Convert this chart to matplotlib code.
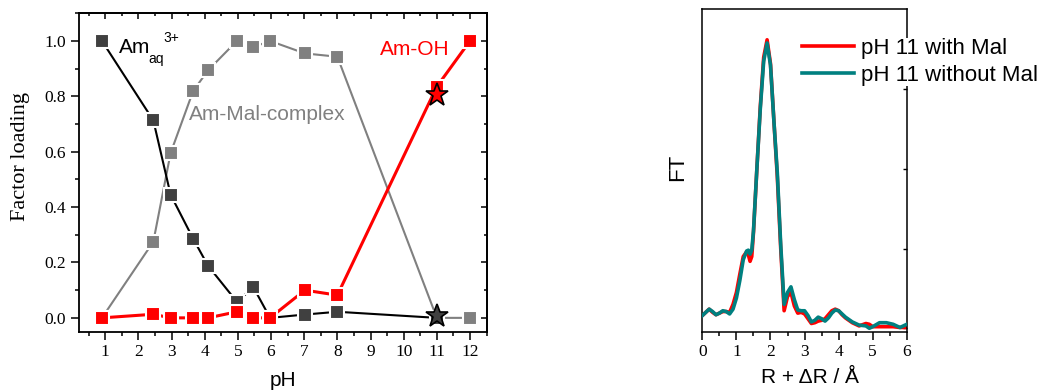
import matplotlib
matplotlib.use("Agg")
import matplotlib.pyplot as plt
from matplotlib.ticker import MultipleLocator
from matplotlib.lines import Line2D

# ---------------- data: factor loadings ----------------
ph = [0.9, 2.45, 2.97, 3.65, 4.1, 4.97, 5.47, 5.97, 7.02, 8.0, 11.0, 12.0]
am_aq = [1.0, 0.713, 0.445, 0.286, 0.188, 0.058, 0.11, 0.0, 0.012, 0.022, 0.0]   # up to pH 11
am_mal = [0.0, 0.275, 0.595, 0.819, 0.894, 1.0, 0.978, 1.0, 0.955, 0.943, 0.0, 0.0]
am_oh = [0.0, 0.013, 0.0, 0.0, 0.0, 0.022, 0.0, 0.0, 0.10, 0.082, 0.835, 1.0]
star_ph = [11.0, 11.0]
star_val = [0.805, 0.005]
star_col = ["#ff0000", "#404040"]

# ---------------- data: FT spectra ----------------
r = [0.0, 0.1, 0.2, 0.3, 0.4, 0.5, 0.6, 0.7, 0.8, 0.9, 1.0, 1.1, 1.2, 1.3, 1.35, 1.4,
     1.45, 1.5, 1.6, 1.7, 1.8, 1.9, 2.0, 2.1, 2.2, 2.3, 2.4, 2.5, 2.6, 2.7, 2.8, 2.9,
     3.0, 3.1, 3.2, 3.3, 3.4, 3.5, 3.6, 3.7, 3.8, 3.9, 4.0, 4.1, 4.2, 4.4, 4.6, 4.8,
     4.9, 5.0, 5.2, 5.4, 5.6, 5.8, 6.0]
ft_without = [0.16, 0.20, 0.24, 0.21, 0.17, 0.19, 0.22, 0.21, 0.18, 0.24, 0.38, 0.60,
              0.86, 0.97, 0.98, 0.93, 0.98, 1.22, 2.0, 2.75, 3.35, 3.58, 3.30, 2.60,
              1.95, 1.05, 0.30, 0.45, 0.52, 0.36, 0.23, 0.22, 0.22, 0.16, 0.08, 0.10,
              0.14, 0.12, 0.09, 0.13, 0.19, 0.23, 0.22, 0.18, 0.14, 0.08, 0.04, 0.03,
              0.0, 0.02, 0.07, 0.07, 0.05, 0.01, 0.05]
ft_with = [0.16, 0.20, 0.24, 0.20, 0.17, 0.19, 0.21, 0.21, 0.20, 0.30, 0.45, 0.68,
           0.90, 0.96, 0.92, 0.84, 0.90, 1.20, 2.0, 2.78, 3.40, 3.62, 3.32, 2.60,
           1.90, 1.00, 0.22, 0.40, 0.45, 0.28, 0.19, 0.20, 0.18, 0.12, 0.06, 0.07,
           0.09, 0.10, 0.12, 0.17, 0.22, 0.24, 0.22, 0.17, 0.13, 0.07, 0.03, 0.06,
           0.05, 0.02, 0.02, 0.02, 0.02, 0.01, 0.01]

SANS = "Liberation Sans"
SERIF = "Liberation Serif"

fig = plt.figure(figsize=(10.43, 3.92), dpi=100)

# ================= left panel =================
ax = fig.add_axes([0.0755, 0.1538, 0.391, 0.8124])
mk = dict(marker="s", markersize=10, markeredgecolor="white", markeredgewidth=1.5)
ax.plot(ph, am_mal, color="#808080", lw=1.5, markerfacecolor="#808080", zorder=2, **mk)
ax.plot(ph[:len(am_aq)], am_aq, color="black", lw=1.5, markerfacecolor="#404040", zorder=3, **mk)
ax.plot(ph, am_oh, color="#ff0000", lw=2.2, markerfacecolor="#ff0000", zorder=4, **mk)
for x, y, c in zip(star_ph, star_val, star_col):
    ax.plot([x], [y], marker="*", markersize=17, markerfacecolor=c,
            markeredgecolor="black", markeredgewidth=1.2, linestyle="none", zorder=6)

ax.set_xlim(0.2, 12.5)
ax.set_ylim(-0.05, 1.1)
ax.xaxis.set_major_locator(MultipleLocator(1))
ax.xaxis.set_minor_locator(MultipleLocator(0.5))
ax.yaxis.set_major_locator(MultipleLocator(0.2))
ax.yaxis.set_minor_locator(MultipleLocator(0.1))
ax.set_xticks(range(1, 13))
ax.set_yticks([0.0, 0.2, 0.4, 0.6, 0.8, 1.0])
ax.set_yticklabels(["0.0", "0.2", "0.4", "0.6", "0.8", "1.0"])
ax.tick_params(which="major", direction="out", length=6, width=1.1, labelsize=12.5, pad=3)
ax.tick_params(which="minor", direction="out", length=3, width=1.1)
for lab in ax.get_xticklabels() + ax.get_yticklabels():
    lab.set_fontfamily(SERIF)
# inward mirrored ticks on top/right
axt = ax.secondary_xaxis("top")
axt.xaxis.set_major_locator(MultipleLocator(1))
axt.xaxis.set_minor_locator(MultipleLocator(0.5))
axt.tick_params(which="major", direction="in", length=4, width=1.1, labeltop=False)
axt.tick_params(which="minor", direction="in", length=2.5, width=1.1)
axr = ax.secondary_yaxis("right")
axr.yaxis.set_major_locator(MultipleLocator(0.2))
axr.yaxis.set_minor_locator(MultipleLocator(0.1))
axr.tick_params(which="major", direction="in", length=4, width=1.1, labelright=False)
axr.tick_params(which="minor", direction="in", length=2.5, width=1.1)
for s in ax.spines.values():
    s.set_linewidth(1.3)
for a in (axt, axr):
    for s in a.spines.values():
        s.set_linewidth(1.3)

ax.text(1.40, 0.977, "Am", fontsize=15, family=SANS, color="black", va="center", ha="left")
ax.text(2.30, 0.934, "aq", fontsize=10, family=SANS, color="black", va="center", ha="left")
ax.text(2.76, 1.009, "3+", fontsize=10, family=SANS, color="black", va="center", ha="left")
ax.text(3.51, 0.734, "Am-Mal-complex", fontsize=15, family=SANS, color="#808080",
        va="center", ha="left")
ax.text(9.28, 0.97, "Am-OH", fontsize=15, family=SANS, color="#ff0000", va="center", ha="left")

fig.text(0.0195, 0.602, "Factor loading", rotation=90, fontsize=16, family=SERIF,
         ha="center", va="center")
fig.text(0.2713, 0.030, "pH", fontsize=15, family=SANS, ha="center", va="center")

# ================= right panel =================
bx = fig.add_axes([0.6734, 0.1538, 0.196, 0.822])
bx.plot(r, ft_with, color="#ff0000", lw=2.6, label="pH 11 with Mal", zorder=2)
bx.plot(r, ft_without, color="#008080", lw=2.6, label="pH 11 without Mal", zorder=3)
bx.set_xlim(0, 6)
bx.set_ylim(-0.043, 4.0)
bx.xaxis.set_major_locator(MultipleLocator(1))
bx.xaxis.set_minor_locator(MultipleLocator(0.5))
bx.set_yticks([0, 1, 2, 3])
bx.tick_params(axis="x", which="major", direction="out", length=6, width=1.1,
               labelsize=12.5, pad=3)
bx.tick_params(axis="x", which="minor", direction="out", length=3, width=1.1)
bx.tick_params(axis="y", which="both", left=False, right=True, direction="in",
               length=3, width=1.0, labelleft=False)
for lab in bx.get_xticklabels():
    lab.set_fontfamily(SERIF)
for s in bx.spines.values():
    s.set_linewidth(1.1)

leg = fig.legend(handles=[Line2D([], [], color="#ff0000", lw=2.6),
                          Line2D([], [], color="#008080", lw=2.6)],
                 labels=["pH 11 with Mal", "pH 11 without Mal"],
                 loc="upper left", bbox_to_anchor=(0.7687, 0.904),
                 frameon=True, framealpha=1, edgecolor="none", facecolor="white",
                 prop={"family": SANS, "size": 16}, handlelength=2.35,
                 handletextpad=0.3, labelspacing=0.28, borderpad=0.0,
                 borderaxespad=0.0)
leg.set_zorder(10)

fig.text(0.650, 0.574, "FT", rotation=90, fontsize=16, family=SANS, ha="center", va="center")
fig.text(0.7766, 0.036, "R + \u0394R / \u00c5", fontsize=15, family=SANS,
         ha="center", va="center")

fig.savefig("out.png", dpi=100)
